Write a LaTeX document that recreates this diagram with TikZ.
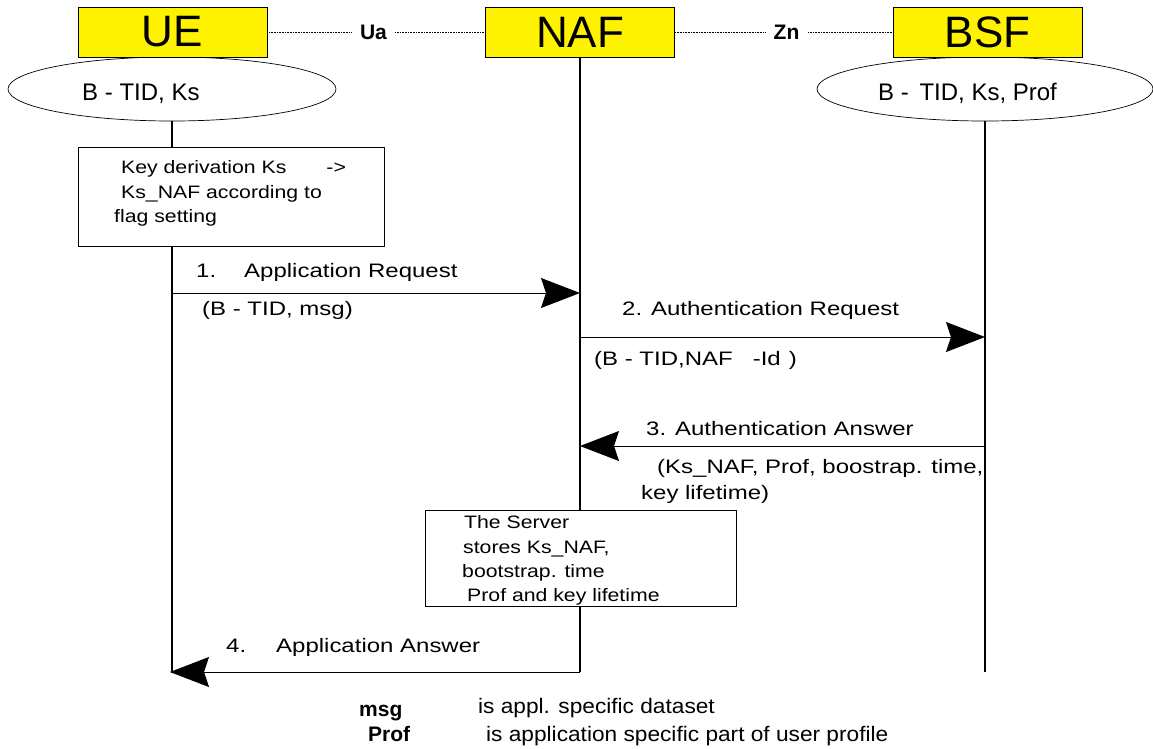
\documentclass[tikz,border=0pt]{standalone}
\usepackage{fontspec}
\setmainfont{Liberation Sans}
\newfontfamily\msgfont[FakeStretch=1.23]{Liberation Sans}
\newfontfamily\boxfont[FakeStretch=1.18]{Liberation Sans}
\newfontfamily\notefont[FakeStretch=1.08]{Liberation Sans}
\usetikzlibrary{arrows.meta,shapes.geometric}

\tikzset{
  entity/.style={draw=black, line width=0.8pt, fill=yellow, minimum width=189pt,
    minimum height=50pt, inner sep=0pt, font=\fontsize{44}{44}\selectfont},
  store/.style={draw=black, ellipse, line width=0.7pt, inner sep=0pt},
  storetext/.style={anchor=base west, inner sep=0pt, font=\fontsize{24}{28}\selectfont},
  iface/.style={inner sep=0pt, minimum width=43pt, minimum height=20pt,
    font=\bfseries\fontsize{21}{21}\selectfont},
  ifline/.style={line width=0.6pt, densely dotted},
  life/.style={line width=1.2pt},
  msgarrow/.style={line width=0.9pt, -{Stealth[length=39pt,width=30pt,inset=5pt]}},
  msglabel/.style={anchor=base west, inner sep=0pt, font=\msgfont\fontsize{19.5}{24}\selectfont},
  notebox/.style={draw=black, fill=white, line width=0.8pt, inner sep=0pt},
  boxtext/.style={anchor=base west, inner sep=0pt, font=\boxfont\fontsize{18}{24}\selectfont},
  notekey/.style={anchor=base west, inner sep=0pt, font=\bfseries\fontsize{21}{24}\selectfont},
  notedef/.style={anchor=base west, inner sep=0pt, font=\notefont\fontsize{21}{24}\selectfont}
}

\begin{document}
\begin{tikzpicture}[x=1pt,y=-1pt]
\useasboundingbox (0,0) rectangle (1153,748);

% key stores below the UE and the BSF
\node[store, minimum width=328pt, minimum height=64pt] (ueks) at (172,89) {};
\node[store, minimum width=336pt, minimum height=64pt] (bsfks) at (985,89) {};
\node[storetext] (ueksText) at (82,100) {B - TID, Ks};
\node[storetext] (bsfksText) at (878,100) {B -\hspace{4pt} TID, Ks, Prof};

% network entities
\node[entity] (ue) at (172.5,32) {UE};
\node[entity] (naf) at (580,32) {NAF};
\node[entity] (bsf) at (987.5,32) {BSF};

% reference points between the entities
\node[iface] (ua) at (373.5,32) {Ua};
\node[iface] (zn) at (786.5,32) {Zn};
\draw[ifline] (ue.east) -- (ua.west);
\draw[ifline] (ua.east) -- (naf.west);
\draw[ifline] (naf.east) -- (zn.west);
\draw[ifline] (zn.east) -- (bsf.west);

% lifelines
\coordinate (ueEnd) at (172,673);
\coordinate (nafEnd) at (580,672);
\coordinate (bsfEnd) at (985,672);
\draw[life] (ueks.south) -- (ueEnd);
\draw[life] (naf.south) -- (nafEnd);
\draw[life] (bsfks.south) -- (bsfEnd);

% key derivation at the UE
\node[notebox, anchor=north west, minimum width=306pt, minimum height=99pt] (keybox) at (78,147) {};
\node[boxtext] (keyA) at (121,173) {Key derivation Ks\hspace{40pt}->};
\node[boxtext] (keyB) at (121,198) {Ks\_NAF according to};
\node[boxtext] (keyC) at (114,222) {flag setting};

% 1. Application Request
\coordinate (m1from) at (172,293);
\coordinate (m1to) at (580,293);
\draw[msgarrow] (m1from) -- (m1to);
\node[msglabel] (m1label) at (196,277) {1.\hspace{28pt}Application Request};
\node[msglabel] (m1data) at (202,315) {(B - TID, msg)};

% 2. Authentication Request
\coordinate (m2from) at (580,337);
\coordinate (m2to) at (985,337);
\draw[msgarrow] (m2from) -- (m2to);
\node[msglabel] (m2label) at (622,315) {2. Authentication Request};
\node[msglabel] (m2data) at (594,365) {(B - TID,NAF\hspace{20pt}-Id\hspace{8pt})};

% 3. Authentication Answer
\coordinate (m3from) at (985,446);
\coordinate (m3to) at (580,446);
\draw[msgarrow] (m3from) -- (m3to);
\node[msglabel] (m3label) at (646,435) {3. Authentication Answer};
\node[msglabel] (m3dataA) at (657,473) {(Ks\_NAF, Prof, boostrap. time,};
\node[msglabel] (m3dataB) at (641,499) {key lifetime)};

% storage at the server
\node[notebox, anchor=north west, minimum width=311pt, minimum height=96pt] (srvbox) at (425,510) {};
\node[boxtext] (srvA) at (464,528) {The Server};
\node[boxtext] (srvB) at (463,553) {stores Ks\_NAF,};
\node[boxtext] (srvC) at (462,577) {bootstrap. time};
\node[boxtext] (srvD) at (467,601) {Prof and key lifetime};

% 4. Application Answer
\coordinate (m4from) at (580,672);
\coordinate (m4to) at (170,672);
\draw[msgarrow] (m4from) -- (m4to);
\node[msglabel] (m4label) at (226,652) {4.\hspace{30pt}Application Answer};

% legend
\node[notekey] (kmsg) at (359,716) {msg};
\node[notedef] (dmsg) at (478,713) {is appl. specific dataset};
\node[notekey] (kprof) at (368,741) {Prof};
\node[notedef] (dprof) at (486,741) {is application specific part of user profile};
\end{tikzpicture}
\end{document}
